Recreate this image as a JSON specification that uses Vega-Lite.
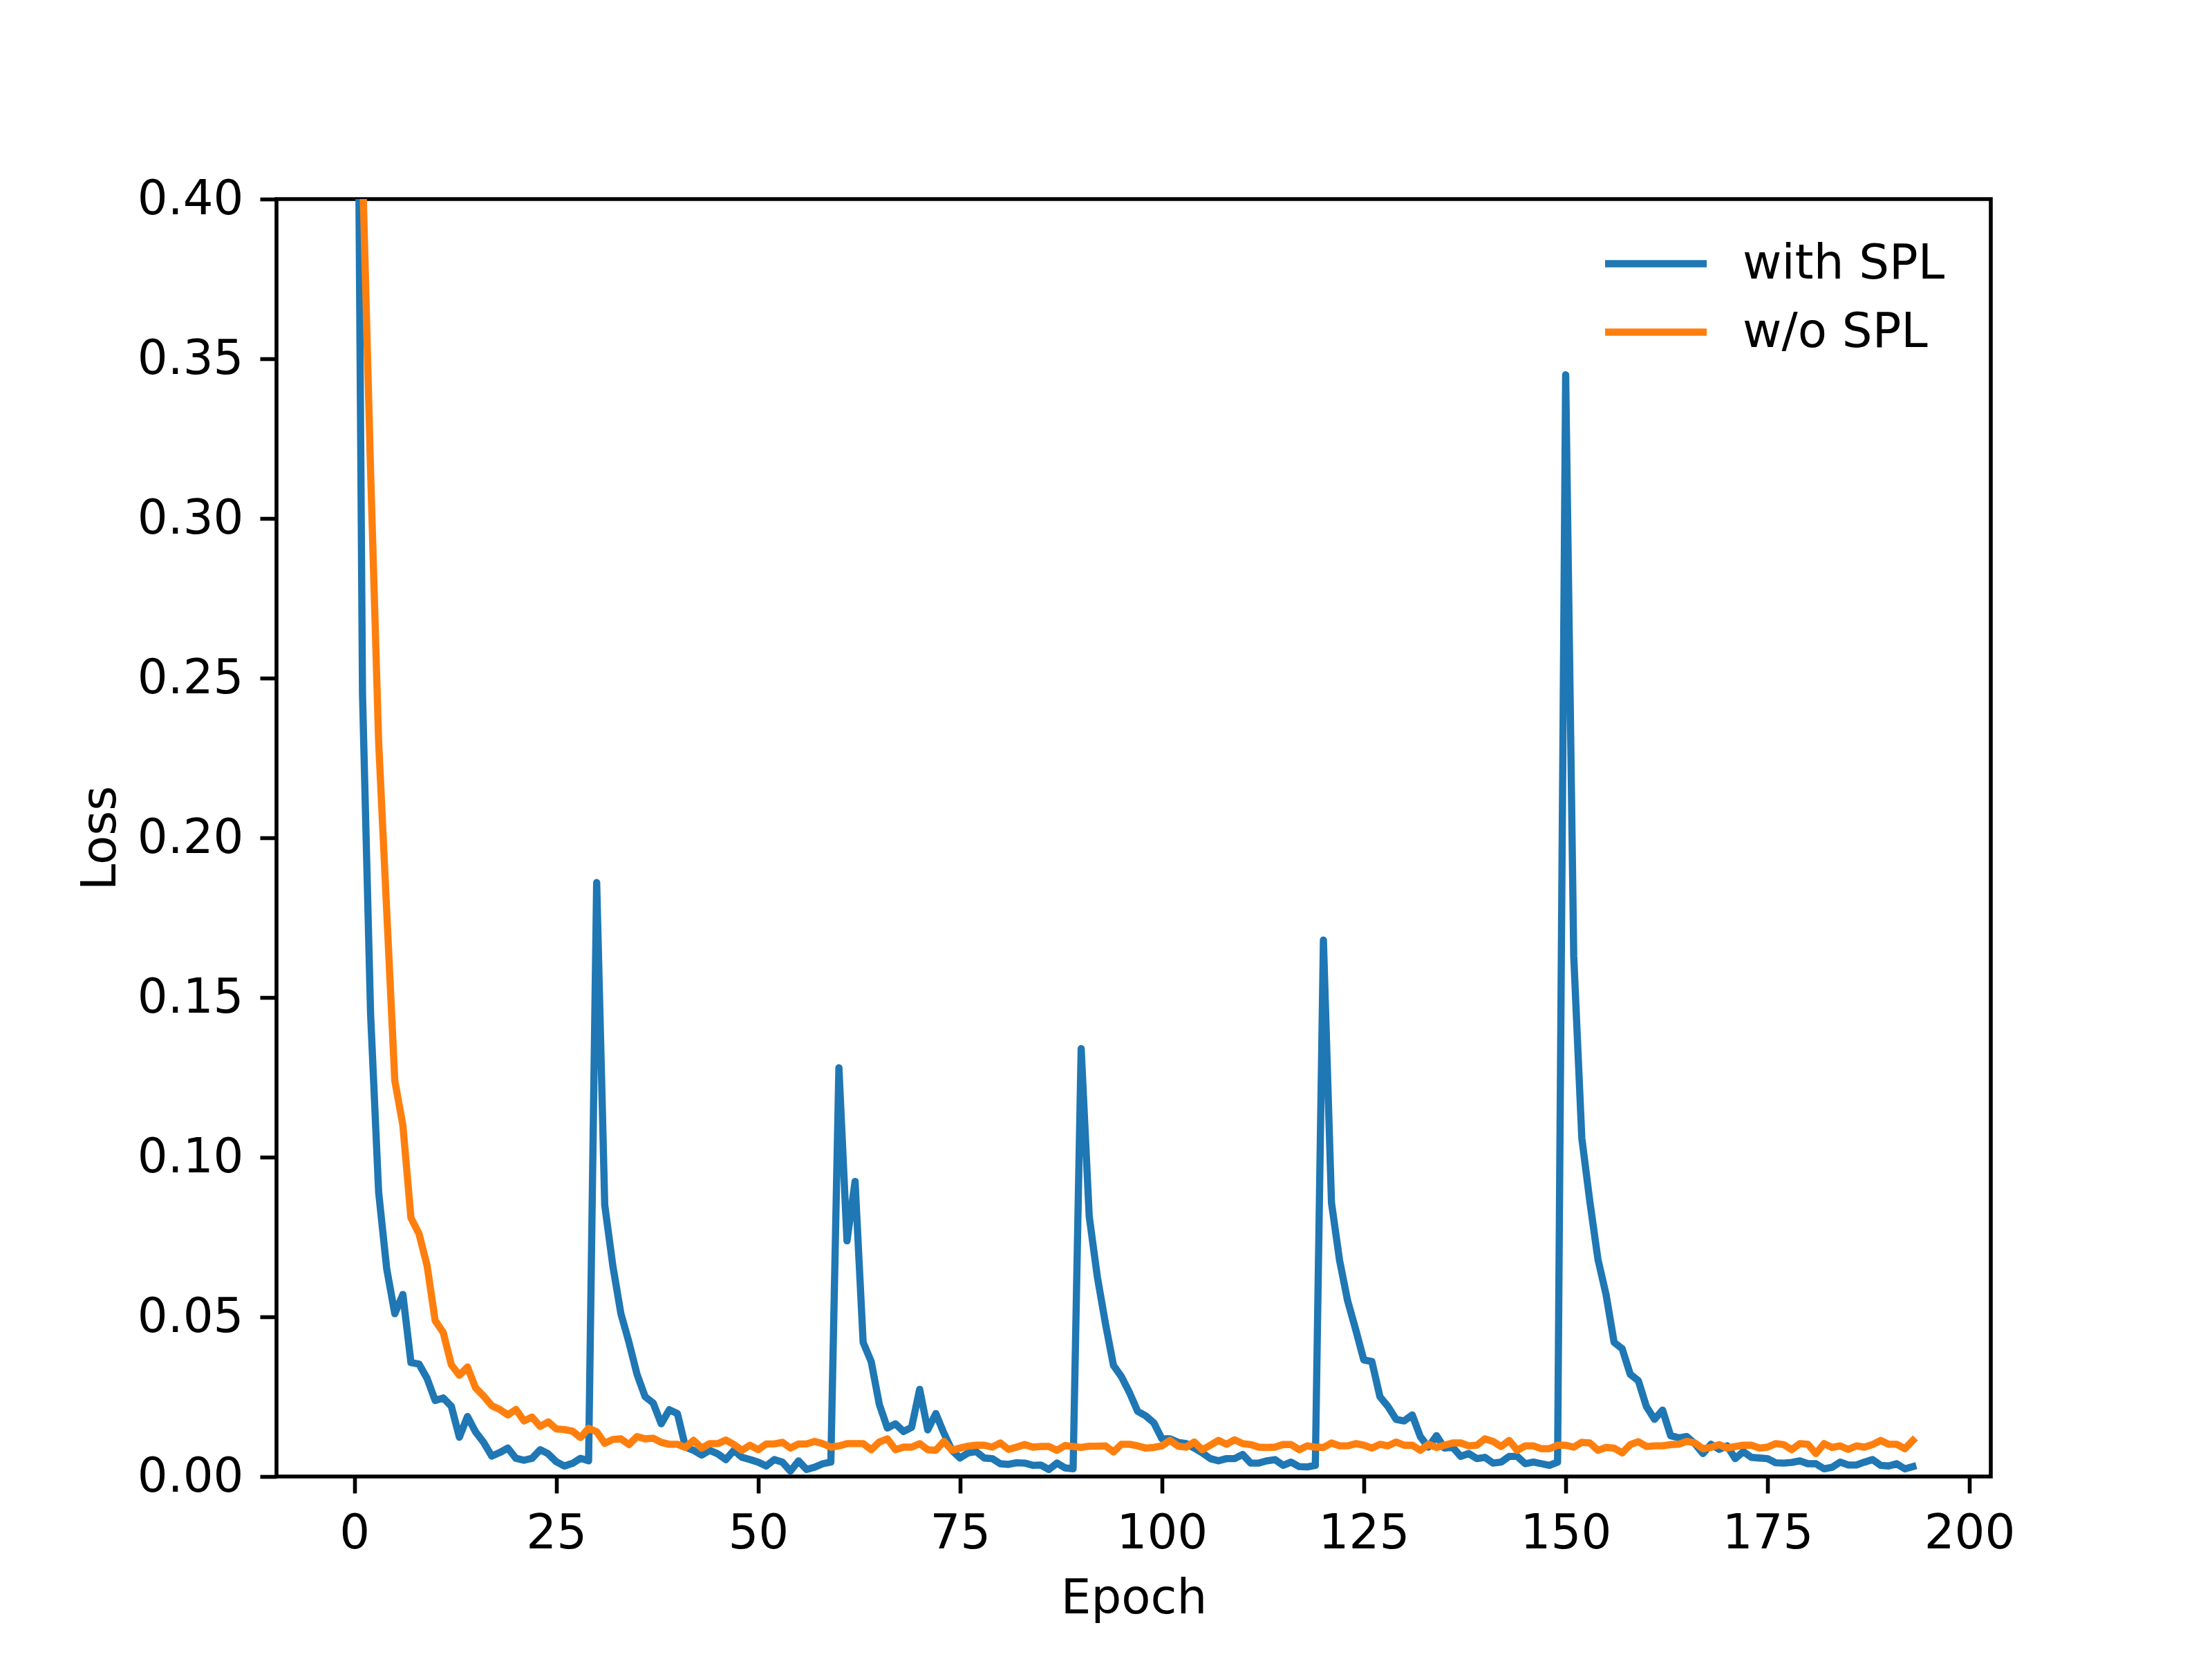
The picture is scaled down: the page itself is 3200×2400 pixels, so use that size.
{
  "$schema": "https://vega.github.io/schema/vega-lite/v6.json",
  "description": "Training loss per epoch, with and without SPL.",
  "autosize": {"type": "none"},
  "padding": {"left": 400, "top": 288, "right": 320, "bottom": 264},
  "width": 2480,
  "height": 1848,
  "background": "white",
  "config": {
    "font": "DejaVu Sans",
    "view": {"stroke": "black", "strokeWidth": 5.6},
    "axis": {
      "labelFont": "DejaVu Sans",
      "titleFont": "DejaVu Sans",
      "labelFontSize": 69,
      "titleFontSize": 69,
      "titleFontWeight": "normal",
      "labelColor": "black",
      "titleColor": "black",
      "tickColor": "black",
      "tickWidth": 5.6,
      "tickSize": 24,
      "labelPadding": 24,
      "domain": false,
      "grid": false
    }
  },
  "data": {
    "values": [
      {"epoch": 0, "with SPL": 0.6, "w/o SPL": 0.9},
      {"epoch": 1, "with SPL": 0.245, "w/o SPL": 0.41},
      {"epoch": 2, "with SPL": 0.145, "w/o SPL": 0.315},
      {"epoch": 3, "with SPL": 0.089, "w/o SPL": 0.23},
      {"epoch": 4, "with SPL": 0.065, "w/o SPL": 0.177},
      {"epoch": 5, "with SPL": 0.051, "w/o SPL": 0.124},
      {"epoch": 6, "with SPL": 0.057, "w/o SPL": 0.11},
      {"epoch": 7, "with SPL": 0.0357, "w/o SPL": 0.081},
      {"epoch": 8, "with SPL": 0.0352, "w/o SPL": 0.076},
      {"epoch": 9, "with SPL": 0.0307, "w/o SPL": 0.066},
      {"epoch": 10, "with SPL": 0.0238, "w/o SPL": 0.0488},
      {"epoch": 11, "with SPL": 0.0246, "w/o SPL": 0.0451},
      {"epoch": 12, "with SPL": 0.022, "w/o SPL": 0.035},
      {"epoch": 13, "with SPL": 0.0123, "w/o SPL": 0.0317},
      {"epoch": 14, "with SPL": 0.0188, "w/o SPL": 0.0343},
      {"epoch": 15, "with SPL": 0.014, "w/o SPL": 0.0278},
      {"epoch": 16, "with SPL": 0.0107, "w/o SPL": 0.0252},
      {"epoch": 17, "with SPL": 0.0064, "w/o SPL": 0.0222},
      {"epoch": 18, "with SPL": 0.0075, "w/o SPL": 0.021},
      {"epoch": 19, "with SPL": 0.0089, "w/o SPL": 0.0193},
      {"epoch": 20, "with SPL": 0.0057, "w/o SPL": 0.021},
      {"epoch": 21, "with SPL": 0.0051, "w/o SPL": 0.0174},
      {"epoch": 22, "with SPL": 0.0057, "w/o SPL": 0.0186},
      {"epoch": 23, "with SPL": 0.0084, "w/o SPL": 0.0157},
      {"epoch": 24, "with SPL": 0.0071, "w/o SPL": 0.0171},
      {"epoch": 25, "with SPL": 0.0046, "w/o SPL": 0.0149},
      {"epoch": 26, "with SPL": 0.0033, "w/o SPL": 0.0147},
      {"epoch": 27, "with SPL": 0.0041, "w/o SPL": 0.0142},
      {"epoch": 28, "with SPL": 0.0057, "w/o SPL": 0.0122},
      {"epoch": 29, "with SPL": 0.0049, "w/o SPL": 0.0151},
      {"epoch": 30, "with SPL": 0.186, "w/o SPL": 0.014},
      {"epoch": 31, "with SPL": 0.085, "w/o SPL": 0.0104},
      {"epoch": 32, "with SPL": 0.066, "w/o SPL": 0.0116},
      {"epoch": 33, "with SPL": 0.051, "w/o SPL": 0.0118},
      {"epoch": 34, "with SPL": 0.042, "w/o SPL": 0.01},
      {"epoch": 35, "with SPL": 0.032, "w/o SPL": 0.0125},
      {"epoch": 36, "with SPL": 0.025, "w/o SPL": 0.0118},
      {"epoch": 37, "with SPL": 0.023, "w/o SPL": 0.012},
      {"epoch": 38, "with SPL": 0.0165, "w/o SPL": 0.0107},
      {"epoch": 39, "with SPL": 0.0209, "w/o SPL": 0.0101},
      {"epoch": 40, "with SPL": 0.0197, "w/o SPL": 0.0101},
      {"epoch": 41, "with SPL": 0.0092, "w/o SPL": 0.0091},
      {"epoch": 42, "with SPL": 0.0082, "w/o SPL": 0.0113},
      {"epoch": 43, "with SPL": 0.0067, "w/o SPL": 0.0089},
      {"epoch": 44, "with SPL": 0.0082, "w/o SPL": 0.0103},
      {"epoch": 45, "with SPL": 0.0071, "w/o SPL": 0.0103},
      {"epoch": 46, "with SPL": 0.0053, "w/o SPL": 0.0114},
      {"epoch": 47, "with SPL": 0.0082, "w/o SPL": 0.01},
      {"epoch": 48, "with SPL": 0.006, "w/o SPL": 0.0082},
      {"epoch": 49, "with SPL": 0.0053, "w/o SPL": 0.0098},
      {"epoch": 50, "with SPL": 0.0045, "w/o SPL": 0.0084},
      {"epoch": 51, "with SPL": 0.0033, "w/o SPL": 0.0102},
      {"epoch": 52, "with SPL": 0.0053, "w/o SPL": 0.0102},
      {"epoch": 53, "with SPL": 0.0045, "w/o SPL": 0.0107},
      {"epoch": 54, "with SPL": 0.0017, "w/o SPL": 0.0089},
      {"epoch": 55, "with SPL": 0.0049, "w/o SPL": 0.0102},
      {"epoch": 56, "with SPL": 0.0022, "w/o SPL": 0.0102},
      {"epoch": 57, "with SPL": 0.0029, "w/o SPL": 0.011},
      {"epoch": 58, "with SPL": 0.004, "w/o SPL": 0.0103},
      {"epoch": 59, "with SPL": 0.0045, "w/o SPL": 0.0092},
      {"epoch": 60, "with SPL": 0.128, "w/o SPL": 0.0096},
      {"epoch": 61, "with SPL": 0.0738, "w/o SPL": 0.0103},
      {"epoch": 62, "with SPL": 0.0924, "w/o SPL": 0.0103},
      {"epoch": 63, "with SPL": 0.042, "w/o SPL": 0.0103},
      {"epoch": 64, "with SPL": 0.036, "w/o SPL": 0.0084},
      {"epoch": 65, "with SPL": 0.0226, "w/o SPL": 0.0108},
      {"epoch": 66, "with SPL": 0.0152, "w/o SPL": 0.0118},
      {"epoch": 67, "with SPL": 0.0165, "w/o SPL": 0.0084},
      {"epoch": 68, "with SPL": 0.0141, "w/o SPL": 0.0092},
      {"epoch": 69, "with SPL": 0.0154, "w/o SPL": 0.0092},
      {"epoch": 70, "with SPL": 0.0273, "w/o SPL": 0.0103},
      {"epoch": 71, "with SPL": 0.0146, "w/o SPL": 0.0084},
      {"epoch": 72, "with SPL": 0.0197, "w/o SPL": 0.0082},
      {"epoch": 73, "with SPL": 0.0136, "w/o SPL": 0.011},
      {"epoch": 74, "with SPL": 0.0082, "w/o SPL": 0.0082},
      {"epoch": 75, "with SPL": 0.0058, "w/o SPL": 0.0089},
      {"epoch": 76, "with SPL": 0.0074, "w/o SPL": 0.0095},
      {"epoch": 77, "with SPL": 0.0078, "w/o SPL": 0.0098},
      {"epoch": 78, "with SPL": 0.0058, "w/o SPL": 0.0098},
      {"epoch": 79, "with SPL": 0.0056, "w/o SPL": 0.0092},
      {"epoch": 80, "with SPL": 0.004, "w/o SPL": 0.0105},
      {"epoch": 81, "with SPL": 0.0038, "w/o SPL": 0.0085},
      {"epoch": 82, "with SPL": 0.0043, "w/o SPL": 0.0092},
      {"epoch": 83, "with SPL": 0.0042, "w/o SPL": 0.01},
      {"epoch": 84, "with SPL": 0.0035, "w/o SPL": 0.0092},
      {"epoch": 85, "with SPL": 0.0036, "w/o SPL": 0.0094},
      {"epoch": 86, "with SPL": 0.0022, "w/o SPL": 0.0094},
      {"epoch": 87, "with SPL": 0.0042, "w/o SPL": 0.0082},
      {"epoch": 88, "with SPL": 0.0027, "w/o SPL": 0.0097},
      {"epoch": 89, "with SPL": 0.0024, "w/o SPL": 0.0094},
      {"epoch": 90, "with SPL": 0.134, "w/o SPL": 0.0091},
      {"epoch": 91, "with SPL": 0.0814, "w/o SPL": 0.0095},
      {"epoch": 92, "with SPL": 0.0626, "w/o SPL": 0.0095},
      {"epoch": 93, "with SPL": 0.048, "w/o SPL": 0.0096},
      {"epoch": 94, "with SPL": 0.0348, "w/o SPL": 0.0077},
      {"epoch": 95, "with SPL": 0.0312, "w/o SPL": 0.0101},
      {"epoch": 96, "with SPL": 0.0262, "w/o SPL": 0.0101},
      {"epoch": 97, "with SPL": 0.0204, "w/o SPL": 0.0096},
      {"epoch": 98, "with SPL": 0.019, "w/o SPL": 0.0089},
      {"epoch": 99, "with SPL": 0.0168, "w/o SPL": 0.0091},
      {"epoch": 100, "with SPL": 0.0118, "w/o SPL": 0.0096},
      {"epoch": 101, "with SPL": 0.0118, "w/o SPL": 0.0113},
      {"epoch": 102, "with SPL": 0.0107, "w/o SPL": 0.0095},
      {"epoch": 103, "with SPL": 0.0103, "w/o SPL": 0.0092},
      {"epoch": 104, "with SPL": 0.0089, "w/o SPL": 0.0108},
      {"epoch": 105, "with SPL": 0.0074, "w/o SPL": 0.0084},
      {"epoch": 106, "with SPL": 0.0056, "w/o SPL": 0.0098},
      {"epoch": 107, "with SPL": 0.0049, "w/o SPL": 0.0113},
      {"epoch": 108, "with SPL": 0.0056, "w/o SPL": 0.0101},
      {"epoch": 109, "with SPL": 0.0056, "w/o SPL": 0.0115},
      {"epoch": 110, "with SPL": 0.0069, "w/o SPL": 0.0103},
      {"epoch": 111, "with SPL": 0.0042, "w/o SPL": 0.01},
      {"epoch": 112, "with SPL": 0.0042, "w/o SPL": 0.0092},
      {"epoch": 113, "with SPL": 0.0049, "w/o SPL": 0.0091},
      {"epoch": 114, "with SPL": 0.0053, "w/o SPL": 0.0092},
      {"epoch": 115, "with SPL": 0.0035, "w/o SPL": 0.01},
      {"epoch": 116, "with SPL": 0.0045, "w/o SPL": 0.01},
      {"epoch": 117, "with SPL": 0.0031, "w/o SPL": 0.0084},
      {"epoch": 118, "with SPL": 0.003, "w/o SPL": 0.0096},
      {"epoch": 119, "with SPL": 0.0035, "w/o SPL": 0.0092},
      {"epoch": 120, "with SPL": 0.168, "w/o SPL": 0.0091},
      {"epoch": 121, "with SPL": 0.0857, "w/o SPL": 0.0105},
      {"epoch": 122, "with SPL": 0.0677, "w/o SPL": 0.0096},
      {"epoch": 123, "with SPL": 0.055, "w/o SPL": 0.0096},
      {"epoch": 124, "with SPL": 0.046, "w/o SPL": 0.0103},
      {"epoch": 125, "with SPL": 0.0365, "w/o SPL": 0.0098},
      {"epoch": 126, "with SPL": 0.036, "w/o SPL": 0.0089},
      {"epoch": 127, "with SPL": 0.025, "w/o SPL": 0.0101},
      {"epoch": 128, "with SPL": 0.0219, "w/o SPL": 0.0096},
      {"epoch": 129, "with SPL": 0.0179, "w/o SPL": 0.0108},
      {"epoch": 130, "with SPL": 0.0174, "w/o SPL": 0.0098},
      {"epoch": 131, "with SPL": 0.0193, "w/o SPL": 0.0098},
      {"epoch": 132, "with SPL": 0.0125, "w/o SPL": 0.0082},
      {"epoch": 133, "with SPL": 0.0092, "w/o SPL": 0.0101},
      {"epoch": 134, "with SPL": 0.0128, "w/o SPL": 0.0091},
      {"epoch": 135, "with SPL": 0.0089, "w/o SPL": 0.0098},
      {"epoch": 136, "with SPL": 0.0092, "w/o SPL": 0.0105},
      {"epoch": 137, "with SPL": 0.0063, "w/o SPL": 0.0105},
      {"epoch": 138, "with SPL": 0.0072, "w/o SPL": 0.0096},
      {"epoch": 139, "with SPL": 0.0056, "w/o SPL": 0.0098},
      {"epoch": 140, "with SPL": 0.006, "w/o SPL": 0.0118},
      {"epoch": 141, "with SPL": 0.0042, "w/o SPL": 0.011},
      {"epoch": 142, "with SPL": 0.0045, "w/o SPL": 0.0094},
      {"epoch": 143, "with SPL": 0.0063, "w/o SPL": 0.0113},
      {"epoch": 144, "with SPL": 0.0063, "w/o SPL": 0.0082},
      {"epoch": 145, "with SPL": 0.004, "w/o SPL": 0.0096},
      {"epoch": 146, "with SPL": 0.0045, "w/o SPL": 0.0096},
      {"epoch": 147, "with SPL": 0.004, "w/o SPL": 0.0087},
      {"epoch": 148, "with SPL": 0.0035, "w/o SPL": 0.0087},
      {"epoch": 149, "with SPL": 0.0045, "w/o SPL": 0.0098},
      {"epoch": 150, "with SPL": 0.345, "w/o SPL": 0.0098},
      {"epoch": 151, "with SPL": 0.163, "w/o SPL": 0.0092},
      {"epoch": 152, "with SPL": 0.106, "w/o SPL": 0.0107},
      {"epoch": 153, "with SPL": 0.086, "w/o SPL": 0.0105},
      {"epoch": 154, "with SPL": 0.068, "w/o SPL": 0.0082},
      {"epoch": 155, "with SPL": 0.057, "w/o SPL": 0.0091},
      {"epoch": 156, "with SPL": 0.042, "w/o SPL": 0.0089},
      {"epoch": 157, "with SPL": 0.04, "w/o SPL": 0.0074},
      {"epoch": 158, "with SPL": 0.032, "w/o SPL": 0.01},
      {"epoch": 159, "with SPL": 0.03, "w/o SPL": 0.0109},
      {"epoch": 160, "with SPL": 0.0219, "w/o SPL": 0.0094},
      {"epoch": 161, "with SPL": 0.0179, "w/o SPL": 0.0096},
      {"epoch": 162, "with SPL": 0.0208, "w/o SPL": 0.0096},
      {"epoch": 163, "with SPL": 0.0128, "w/o SPL": 0.01},
      {"epoch": 164, "with SPL": 0.0121, "w/o SPL": 0.0101},
      {"epoch": 165, "with SPL": 0.0125, "w/o SPL": 0.011},
      {"epoch": 166, "with SPL": 0.0103, "w/o SPL": 0.0105},
      {"epoch": 167, "with SPL": 0.0072, "w/o SPL": 0.0087},
      {"epoch": 168, "with SPL": 0.0101, "w/o SPL": 0.0091},
      {"epoch": 169, "with SPL": 0.0085, "w/o SPL": 0.01},
      {"epoch": 170, "with SPL": 0.0096, "w/o SPL": 0.0089},
      {"epoch": 171, "with SPL": 0.0056, "w/o SPL": 0.0094},
      {"epoch": 172, "with SPL": 0.0078, "w/o SPL": 0.0098},
      {"epoch": 173, "with SPL": 0.006, "w/o SPL": 0.0098},
      {"epoch": 174, "with SPL": 0.0058, "w/o SPL": 0.0089},
      {"epoch": 175, "with SPL": 0.0056, "w/o SPL": 0.0092},
      {"epoch": 176, "with SPL": 0.0043, "w/o SPL": 0.0103},
      {"epoch": 177, "with SPL": 0.0042, "w/o SPL": 0.01},
      {"epoch": 178, "with SPL": 0.0044, "w/o SPL": 0.0084},
      {"epoch": 179, "with SPL": 0.0049, "w/o SPL": 0.0103},
      {"epoch": 180, "with SPL": 0.004, "w/o SPL": 0.0101},
      {"epoch": 181, "with SPL": 0.004, "w/o SPL": 0.0072},
      {"epoch": 182, "with SPL": 0.0024, "w/o SPL": 0.0103},
      {"epoch": 183, "with SPL": 0.0029, "w/o SPL": 0.0091},
      {"epoch": 184, "with SPL": 0.0045, "w/o SPL": 0.0096},
      {"epoch": 185, "with SPL": 0.0036, "w/o SPL": 0.0085},
      {"epoch": 186, "with SPL": 0.0036, "w/o SPL": 0.0096},
      {"epoch": 187, "with SPL": 0.0045, "w/o SPL": 0.0092},
      {"epoch": 188, "with SPL": 0.0053, "w/o SPL": 0.01},
      {"epoch": 189, "with SPL": 0.0035, "w/o SPL": 0.0113},
      {"epoch": 190, "with SPL": 0.0033, "w/o SPL": 0.0101},
      {"epoch": 191, "with SPL": 0.004, "w/o SPL": 0.0101},
      {"epoch": 192, "with SPL": 0.0024, "w/o SPL": 0.0087},
      {"epoch": 193, "with SPL": 0.0031, "w/o SPL": 0.0113}
    ]
  },
  "transform": [
    {"fold": ["with SPL", "w/o SPL"], "as": ["run", "loss"]}
  ],
  "mark": {
    "type": "line",
    "clip": true,
    "strokeWidth": 10.4,
    "strokeJoin": "round",
    "strokeCap": "square"
  },
  "encoding": {
    "x": {
      "field": "epoch",
      "type": "quantitative",
      "scale": {"domain": [-9.65, 202.65], "nice": false, "zero": false},
      "axis": {
        "title": "Epoch",
        "values": [0, 25, 50, 75, 100, 125, 150, 175, 200],
        "format": "d",
        "titlePadding": 25
      }
    },
    "y": {
      "field": "loss",
      "type": "quantitative",
      "scale": {"domain": [0, 0.4], "nice": false},
      "axis": {
        "title": "Loss",
        "values": [0, 0.05, 0.1, 0.15, 0.2, 0.25, 0.3, 0.35, 0.4],
        "format": ".2f",
        "titlePadding": 20
      }
    },
    "color": {
      "field": "run",
      "type": "nominal",
      "sort": ["with SPL", "w/o SPL"],
      "scale": {"domain": ["with SPL", "w/o SPL"], "range": ["#1f77b4", "#ff7f0e"]},
      "legend": {
        "title": null,
        "orient": "none",
        "legendX": 1940,
        "legendY": 38,
        "padding": 0,
        "symbolType": "M-1.47,0H1.47",
        "symbolSize": 10000,
        "symbolStrokeWidth": 10.4,
        "symbolFillColor": "transparent",
        "labelFont": "DejaVu Sans",
        "labelFontSize": 69,
        "labelColor": "black",
        "labelLimit": 0,
        "labelOffset": 70,
        "rowPadding": 8
      }
    }
  }
}
